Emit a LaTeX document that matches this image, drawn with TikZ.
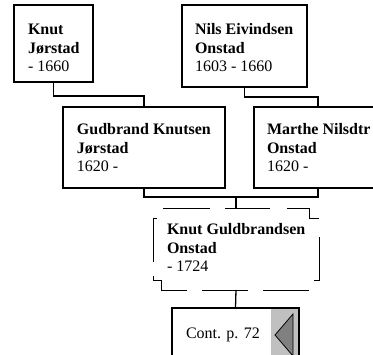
\documentclass[tikz,border=0pt]{standalone}
\usepackage{fontspec}
\setmainfont{Liberation Serif}
\newcommand\nameblock[3]{\vtop{\hbox{\textbf{#1}}\hbox{\textbf{#2}}\hbox{#3}}}
\tikzset{
  person/.style={draw, line width=1.3pt, inner sep=0pt, outer sep=0pt, anchor=north west},
  txt/.style={anchor=base west, inner sep=0pt, outer sep=0pt, font=\fontsize{16}{18.5}\selectfont},
  link/.style={draw, line width=1.3pt},
  dashline/.style={line width=0.9pt}
}
\begin{document}
\begin{tikzpicture}[x=1pt,y=-1pt]
\useasboundingbox (0,0) rectangle (373,355);
% boxes
\node[person, minimum width=79pt, minimum height=77pt] (b1) at (14,5) {};
\node[person, minimum width=125pt, minimum height=82pt] (b2) at (182,5) {};
\node[person, minimum width=162pt, minimum height=81pt] (g) at (63,107) {};
\node[person, minimum width=128pt, minimum height=81pt] (m) at (254,107) {};
\node[inner sep=0pt, outer sep=0pt, anchor=north west, minimum width=166pt, minimum height=82pt] (d) at (153,208) {};
\node[person, minimum width=127pt, minimum height=57pt] (c) at (172,308) {};
% texts
\node[txt] (t1) at (28,35) {\nameblock{Knut}{Jørstad}{- 1660}};
\node[txt] (t2) at (195,35) {\nameblock{Nils Eivindsen}{Onstad}{1603 - 1660}};
\node[txt] (t3) at (77,135) {\nameblock{Gudbrand Knutsen}{Jørstad}{1620 -}};
\node[txt] (t4) at (267,135) {\nameblock{Marthe Nilsdtr}{Onstad}{1620 -}};
\node[txt] (t5) at (167,235) {\nameblock{Knut Guldbrandsen}{Onstad}{- 1724}};
\node[txt] (t6) at (186,339) {Cont. p. 72};
% dashed notched box
\draw[dashline] (163,208) -- (210,208);
\draw[dashline] (225,208) -- (270,208);
\draw[dashline] (287,208) -- (309,208) -- (309,218) -- (319,218);
\draw[dashline] (319,237) -- (319,280) -- (314,280);
\draw[dashline] (309,290) -- (263,290);
\draw[dashline] (248,290) -- (202,290);
\draw[dashline] (187,290) -- (161,290) -- (161,280) -- (153,280) -- (153,276);
\draw[dashline] (153,262) -- (153,218) -- (157,218);
% continuation marker
\node[fill={rgb,255:red,192;green,192;blue,192}, inner sep=0pt, outer sep=0pt, anchor=north west, minimum width=27pt, minimum height=57pt] (cg) at (271,308) {};
\draw[line width=1.5pt] (299,308) -- (299,365);
\draw[line width=1.5pt] (172,308) -- (299,308);
\draw[line width=0.8pt, fill={rgb,255:red,128;green,128;blue,128}] (275,335) -- (293,314) -- (293,356) -- cycle;
% connectors
\coordinate (j1) at (100,96);
\coordinate (j2) at (280,97);
\coordinate (j3) at (236,197);
\draw[link] (b1.south) |- (j1) -| (g.north);
\draw[link] (b2.south) |- (j2) -| (m.north);
\draw[link] (g.south) |- (j3) -| (m.south);
\draw[link] (j3) -- (d.north);
\draw[link] (d.south) -- (c.north);
\end{tikzpicture}
\end{document}
